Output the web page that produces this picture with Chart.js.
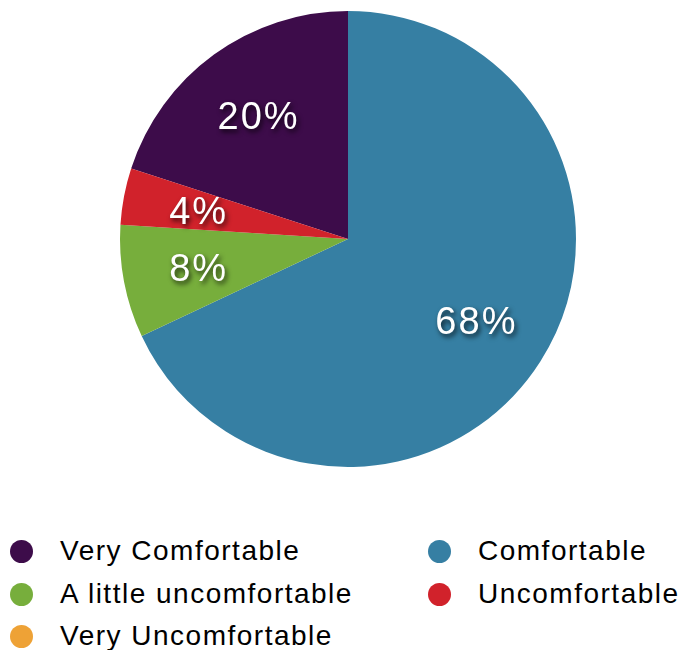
<!DOCTYPE html>
<html>
<head>
<meta charset="utf-8">
<script src="https://cdn.jsdelivr.net/npm/chart.js@4"></script>
<style>
  body { margin: 0; background: #fff; font-family: "Liberation Sans", Arial, sans-serif; }
  #wrap { position: relative; width: 684px; height: 650px; overflow: hidden; }
  #chartBox { position: absolute; left: 0; top: 0; width: 684px; height: 480px; }
  .legend-item { position: absolute; height: 30px; line-height: 30px; font-size: 28px; letter-spacing: 1.5px; color: #000; white-space: nowrap; }
  .legend-item .dot { position: absolute; left: 0; top: 4px; width: 23px; height: 23px; border-radius: 50%; }
  .legend-item .txt { position: absolute; left: 50px; top: 0; }
</style>
</head>
<body>
<div id="wrap">
  <div id="chartBox"><canvas id="pieChart" width="684" height="480"></canvas></div>
  <div id="legend"></div>
</div>
<script>
const categories = ['Very Comfortable', 'Comfortable', 'A little uncomfortable', 'Uncomfortable', 'Very Uncomfortable'];
const shares = [20, 68, 8, 4, 0];
const colors = ['#3d0c4a', '#367fa3', '#77ae3c', '#d1222b', '#eea236'];

// Percent labels with a soft drop shadow, placed two thirds of the way out
const sliceLabels = {
    id: 'sliceLabels',
    afterDatasetsDraw(chart) {
        const ctx = chart.ctx;
        const meta = chart.getDatasetMeta(0);
        ctx.save();
        ctx.font = '38px "Liberation Sans", Arial, sans-serif';
        ctx.letterSpacing = '2px';
        ctx.fillStyle = '#fff';
        ctx.textAlign = 'center';
        ctx.textBaseline = 'middle';
        ctx.shadowColor = 'rgba(0, 0, 0, 0.75)';
        ctx.shadowOffsetX = 2;
        ctx.shadowOffsetY = 3;
        ctx.shadowBlur = 5;
        meta.data.forEach((arc, i) => {
            if (!shares[i]) return;
            const p = arc.getProps(['x', 'y', 'startAngle', 'endAngle', 'outerRadius']);
            const mid = (p.startAngle + p.endAngle) / 2;
            const r = p.outerRadius * 0.667;
            ctx.fillText(shares[i] + '%', p.x + Math.cos(mid) * r, p.y + Math.sin(mid) * r + 3);
        });
        ctx.restore();
    }
};

new Chart(document.getElementById('pieChart').getContext('2d'), {
    type: 'pie',
    data: {
        labels: categories,
        datasets: [{
            data: shares,
            backgroundColor: colors,
            borderWidth: 0
        }]
    },
    options: {
        responsive: false,
        animation: false,
        rotation: -72,
        layout: { padding: { top: 11, bottom: 13, left: 12, right: 0 } },
        plugins: {
            legend: { display: false },
            tooltip: { enabled: false }
        }
    },
    plugins: [sliceLabels]
});

// Two-column legend under the pie
const legendBox = document.getElementById('legend');
const colX = [10, 428];
const rowY = [536, 579, 621];
categories.forEach((name, i) => {
    const item = document.createElement('div');
    item.className = 'legend-item';
    item.style.left = colX[i % 2] + 'px';
    item.style.top = rowY[Math.floor(i / 2)] + 'px';
    item.innerHTML = '<span class="dot" style="background:' + colors[i] + '"></span><span class="txt">' + name + '</span>';
    legendBox.appendChild(item);
});
</script>
</body>
</html>
